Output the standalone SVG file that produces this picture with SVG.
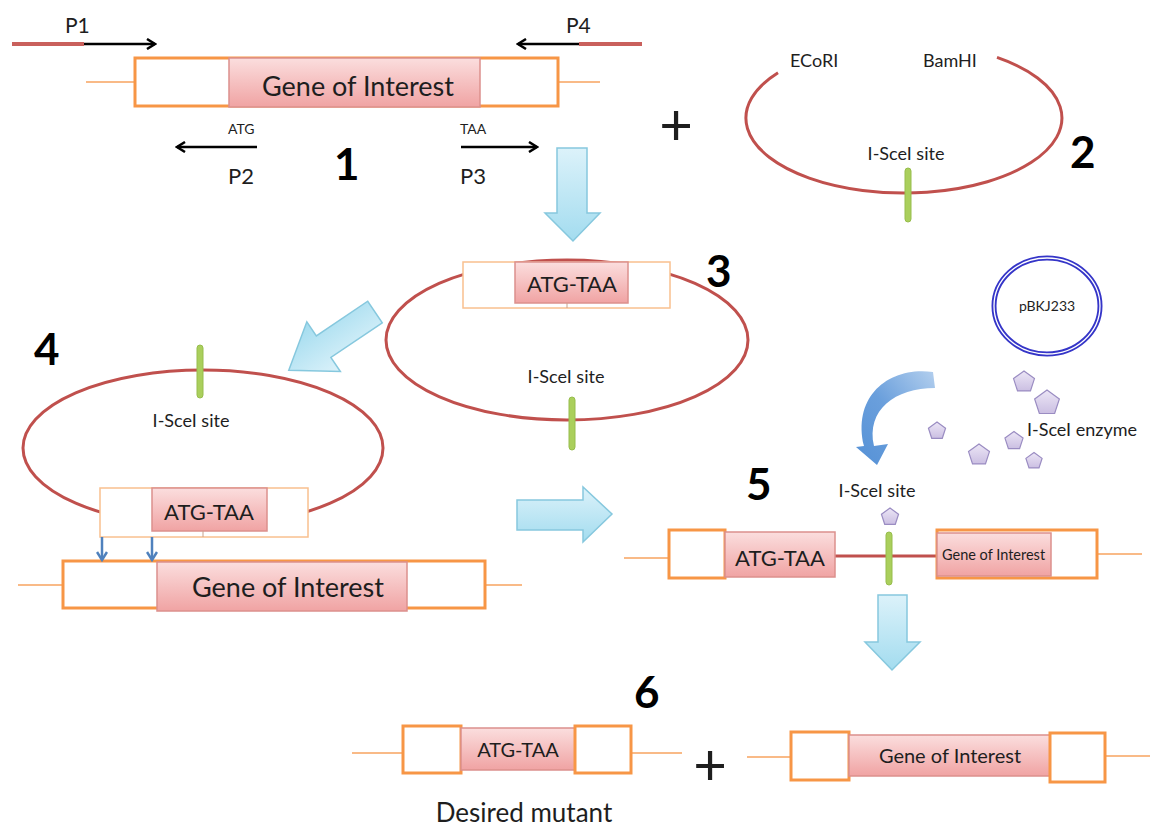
<svg xmlns="http://www.w3.org/2000/svg" xmlns:xlink="http://www.w3.org/1999/xlink" width="1150" height="832" viewBox="0 0 1150 832">
<style>
text{font-family:Lato,"Open Sans","Liberation Sans",sans-serif;fill:#1e1e1e}
.num{font-weight:bold;font-size:44px;fill:#000}
.lbl{font-size:18px}
.plas{fill:none;stroke:#c0504d;stroke-width:3}
.obox{fill:#fff;stroke:#f79646;stroke-width:3}
.tbox{fill:#fff;stroke:#f9c08f;stroke-width:1.5}
.oline{stroke:#f7a35f;stroke-width:1.5}
.pink{fill:url(#pinkg);stroke:#dc908d;stroke-width:1.5}
.green{fill:#aacf5c;stroke:#97bd4c;stroke-width:1}
.blk{fill:url(#blueg);stroke:#86c8de;stroke-width:1.5}
.barrow{stroke:#000;stroke-width:2.5;fill:none}
.primer{stroke:#c9605c;stroke-width:4}
</style>
<defs>
<linearGradient id="pinkg" x1="0" y1="0" x2="0" y2="1"><stop offset="0" stop-color="#fbdede"/><stop offset="1" stop-color="#f0a3a3"/></linearGradient>
<linearGradient id="blueg" x1="0" y1="0" x2="0" y2="1"><stop offset="0" stop-color="#dcf2fa"/><stop offset="1" stop-color="#a3dcef"/></linearGradient>
<linearGradient id="pentg" x1="0" y1="0" x2="0" y2="1"><stop offset="0" stop-color="#ece6f6"/><stop offset="1" stop-color="#cbbfe2"/></linearGradient>
<linearGradient id="curveg" x1="1" y1="0" x2="0" y2="1"><stop offset="0" stop-color="#b3cfee"/><stop offset="0.5" stop-color="#6a9fdc"/><stop offset="1" stop-color="#5591d6"/></linearGradient>
<marker id="chev" viewBox="0 0 12 12" refX="10" refY="6" markerWidth="12" markerHeight="12" markerUnits="userSpaceOnUse" orient="auto">
<path d="M2,1 L10,6 L2,11" fill="none" stroke="#000" stroke-width="2.5"/>
</marker>
<marker id="bchev" viewBox="0 0 12 12" refX="10" refY="6" markerWidth="12" markerHeight="12" markerUnits="userSpaceOnUse" orient="auto">
<path d="M2,1 L10,6 L2,11" fill="none" stroke="#4f81bd" stroke-width="2.5"/>
</marker>
<path id="pent" d="M0,-1 L0.951,-0.309 L0.588,0.809 L-0.588,0.809 L-0.951,-0.309 Z" fill="url(#pentg)" stroke="#9a8cc2" stroke-width="1.2" vector-effect="non-scaling-stroke"/>
</defs>
<rect width="1150" height="832" fill="#fff"/>

<!-- Step 1: gene with primers -->
<g id="step1">
<line class="oline" x1="86" y1="82" x2="135" y2="82"/>
<line class="oline" x1="558" y1="82" x2="600" y2="82"/>
<rect class="obox" x="135" y="58" width="423" height="48"/>
<rect class="pink" x="229" y="58" width="251" height="49"/>
<text x="358" y="96" font-size="27" text-anchor="middle">Gene of Interest</text>
<text x="65" y="33" font-size="21">P1</text>
<text x="566" y="33" font-size="21">P4</text>
<text x="228" y="134" font-size="14">ATG</text>
<text x="460" y="134" font-size="14">TAA</text>
<text x="228" y="184" font-size="22">P2</text>
<text x="460" y="184" font-size="22">P3</text>
<text class="num" x="334" y="180">1</text>
</g>

<text id="plus1" x="676" y="145" font-size="58" text-anchor="middle">+</text>

<!-- Step 2: vector -->
<g id="step2">
<path class="plas" d="M778 72.7 A158 75 0 1 0 997 57.4"/>
<text class="lbl" x="790" y="67">ECoRI</text>
<text class="lbl" x="923" y="67">BamHI</text>
<text class="lbl" x="906" y="160" text-anchor="middle">I-SceI site</text>
<rect class="green" x="905" y="168" width="6" height="54" rx="3"/>
<text class="num" x="1070" y="168">2</text>
</g>

<!-- Step 3: recombinant plasmid -->
<g id="step3">
<ellipse class="plas" cx="567" cy="340" rx="181" ry="80"/>
<rect class="tbox" x="463" y="262" width="207" height="46"/>
<rect class="pink" x="515" y="262" width="113" height="41"/>
<line x1="567" y1="303" x2="567" y2="308" stroke="#c9a08c" stroke-width="1"/>
<text x="572" y="292" font-size="22" text-anchor="middle">ATG-TAA</text>
<text class="lbl" x="566" y="383" text-anchor="middle">I-SceI site</text>
<rect class="green" x="569" y="397" width="6" height="53" rx="3"/>
<text class="num" x="706" y="287">3</text>
</g>

<!-- Step 4: integration -->
<g id="step4">
<ellipse class="plas" cx="203" cy="448" rx="180" ry="78"/>
<rect class="green" x="197" y="345" width="6" height="53" rx="3"/>
<text class="lbl" x="191" y="427" text-anchor="middle">I-SceI site</text>
<rect class="tbox" x="100" y="488" width="208" height="49"/>
<rect class="pink" x="152" y="488" width="115" height="43"/>
<line x1="203" y1="531" x2="203" y2="537" stroke="#c9a08c" stroke-width="1"/>
<text x="209" y="520" font-size="22" text-anchor="middle">ATG-TAA</text>
<line class="oline" x1="18" y1="585" x2="63" y2="585"/>
<line class="oline" x1="485" y1="585" x2="522" y2="585"/>
<rect class="obox" x="63" y="561" width="422" height="47"/>
<rect class="pink" x="157" y="562" width="250" height="49"/>
<text x="288" y="597" font-size="27" text-anchor="middle">Gene of Interest</text>
<text class="num" x="34" y="365">4</text>
</g>

<!-- pBKJ233 and enzyme -->
<g id="pBKJ233">
<ellipse cx="1047" cy="306" rx="53" ry="48" fill="none" stroke="#3535c8" stroke-width="5"/>
<ellipse cx="1047" cy="306" rx="53" ry="48" fill="none" stroke="#fff" stroke-width="1.3"/>
<text x="1047" y="311" font-size="14" text-anchor="middle">pBKJ233</text>
</g>
<g id="enzyme">
<use xlink:href="#pent" transform="translate(1024,382) scale(11)"/>
<use xlink:href="#pent" transform="translate(1047,403) scale(13)"/>
<use xlink:href="#pent" transform="translate(937,431) scale(9)"/>
<use xlink:href="#pent" transform="translate(979,455) scale(11)"/>
<use xlink:href="#pent" transform="translate(1014,441) scale(9.5)"/>
<use xlink:href="#pent" transform="translate(1034,461) scale(8.5)"/>
<text class="lbl" x="1027" y="436">I-SceI enzyme</text>
</g>

<!-- Step 5 -->
<g id="step5">
<line class="oline" x1="624" y1="558" x2="669" y2="558"/>
<line class="oline" x1="1097" y1="554" x2="1142" y2="554"/>
<line x1="834" y1="556" x2="937" y2="556" stroke="#c0504d" stroke-width="3"/>
<rect class="obox" x="669" y="530" width="56" height="48"/>
<rect class="pink" x="725" y="532" width="110" height="45"/>
<text x="780" y="566" font-size="22" text-anchor="middle">ATG-TAA</text>
<rect class="obox" x="937" y="530" width="160" height="48"/>
<rect class="pink" x="937" y="533" width="114" height="43"/>
<text x="942" y="560" font-size="14.5">Gene of Interest</text>
<rect class="green" x="886" y="532" width="6" height="53" rx="3"/>
<use xlink:href="#pent" transform="translate(890,517) scale(9)"/>
<text class="lbl" x="877" y="497" text-anchor="middle">I-SceI site</text>
<text class="num" x="746" y="500">5</text>
</g>

<!-- Step 6 -->
<g id="step6">
<line class="oline" x1="352" y1="753" x2="403" y2="753"/>
<line class="oline" x1="631" y1="753" x2="682" y2="753"/>
<rect class="obox" x="403" y="726" width="58" height="47"/>
<rect class="pink" x="461" y="728" width="114" height="42"/>
<text x="518" y="757" font-size="20" text-anchor="middle">ATG-TAA</text>
<rect class="obox" x="575" y="726" width="56" height="47"/>
<text x="710" y="785" font-size="58" text-anchor="middle">+</text>
<line class="oline" x1="747" y1="757" x2="791" y2="757"/>
<line class="oline" x1="1105" y1="756" x2="1150" y2="756"/>
<rect class="obox" x="791" y="732" width="58" height="48"/>
<rect class="pink" x="849" y="735" width="201" height="41"/>
<text x="950" y="763" font-size="20" text-anchor="middle">Gene of Interest</text>
<rect class="obox" x="1050" y="733" width="55" height="49"/>
<text x="524" y="822" font-size="26" text-anchor="middle">Desired mutant</text>
<text class="num" x="634" y="708">6</text>
</g>

<!-- Connectors -->
<g id="connectors">
<line class="primer" x1="12" y1="44" x2="84" y2="44"/>
<line class="barrow" x1="84" y1="44" x2="155" y2="44" marker-end="url(#chev)"/>
<line class="primer" x1="579" y1="44" x2="642" y2="44"/>
<line class="barrow" x1="579" y1="44" x2="518" y2="44" marker-end="url(#chev)"/>
<line class="barrow" x1="257" y1="147" x2="177" y2="147" marker-end="url(#chev)"/>
<line class="barrow" x1="461" y1="147" x2="537" y2="147" marker-end="url(#chev)"/>
<polygon class="blk" points="557,148 587,148 587,213 600,213 573,241 545,213 557,213"/>
<polygon class="blk" points="0,-13 62,-13 62,-30 104,0 62,30 62,13 0,13" transform="translate(375,312) rotate(146)"/>
<polygon class="blk" points="517,500 583,500 583,487 612,514 583,542 583,530 517,530"/>
<polygon class="blk" points="878,595 907,595 907,642 920,642 892,670 865,642 878,642"/>
<line x1="102" y1="537" x2="102" y2="560" stroke="#4f81bd" stroke-width="2.5" marker-end="url(#bchev)"/>
<line x1="152" y1="537" x2="152" y2="560" stroke="#4f81bd" stroke-width="2.5" marker-end="url(#bchev)"/>
<path d="M933 372 C890 366,852 395,864 446 L856 447 L877 465 L888 444 L874 446 C866 410,895 388,935 388 Z" fill="url(#curveg)"/>
</g>
</svg>
